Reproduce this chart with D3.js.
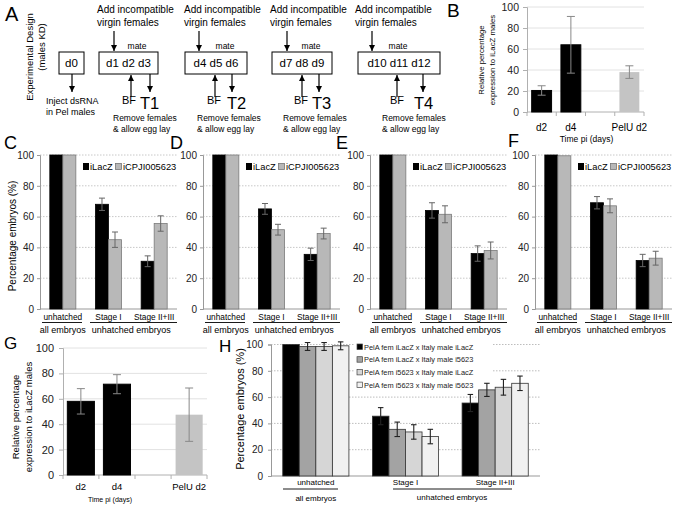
<!DOCTYPE html>
<html><head><meta charset="utf-8">
<script src="https://cdn.jsdelivr.net/npm/d3@7"></script>
<style>body{margin:0;background:#fff} text{font-family:"Liberation Sans",Arial,sans-serif}</style>
</head><body><script>
// ---------- DATA ----------
const dayBoxes = ["d1 d2 d3","d4 d5 d6","d7 d8 d9","d10 d11 d12"];
const timePoints = ["T1","T2","T3","T4"];

const exprCats = ["d2","d4","","PelU d2"];
const bValues = [20.5, 64, null, 38];
const bErr = [4.5, 27, null, 6];
const gValues = [58, 71.5, null, 47.5];
const gErr = [10, 7.5, null, 21];
const yTicks = [0,20,40,60,80,100];

const stages = ["unhatched","Stage I","Stage II+III"];
const stageGroups = ["all embryos","unhatched embryos"];
const seriesCF = ["iLacZ","iCPJI005623"];
const cLacZ = [100, 68, 31],   cLacZErr = [0, 4, 3.5];
const cCPJ  = [100, 45, 55.5], cCPJErr  = [0, 5, 5];
const dLacZ = [100, 65, 35.5], dLacZErr = [0, 3.5, 4];
const dCPJ  = [100, 51.5, 49], dCPJErr  = [0, 3.5, 3.5];
const eLacZ = [100, 64, 36],   eLacZErr = [0, 5, 5];
const eCPJ  = [100, 61.5, 38], eCPJErr  = [0, 5.5, 5.5];
const fLacZ = [100, 69, 31.5], fLacZErr = [0, 4, 4];
const fCPJ  = [99.5, 67, 33],  fCPJErr  = [0, 4.5, 4.5];

const seriesH = ["PelA fem iLacZ x Italy male iLacZ","PelA fem iLacZ x Italy male i5623",
                 "PelA fem i5623 x Italy male iLacZ","PelA fem i5623 x Italy male i5623"];
const h1 = [100, 45.5, 55.5], h1Err = [0, 6.5, 6.5];
const h2 = [98.5, 35.5, 65.5], h2Err = [3, 5.5, 5];
const h3 = [98.5, 33.5, 67.5], h3Err = [3, 5.5, 6];
const h4 = [99, 30, 70.5],    h4Err = [3, 5.5, 5.5];

// ---------- SETUP ----------
const svg = d3.select("body").append("svg").attr("width",681).attr("height",508);
const defs = svg.append("defs");
defs.append("marker").attr("id","ah").attr("viewBox","0 0 10 10").attr("refX",10).attr("refY",5)
  .attr("markerWidth",6).attr("markerHeight",7).attr("markerUnits","userSpaceOnUse").attr("orient","auto")
  .append("path").attr("d","M0,0L10,5L0,10Z").attr("fill","#000");

function txt(g,x,y,s,size,opt={}){
  const t=g.append("text").attr("x",x).attr("y",y).text(s).attr("font-size",size).attr("fill",opt.fill||"#000");
  if(opt.anchor) t.attr("text-anchor",opt.anchor);
  if(opt.rot) t.attr("transform",`rotate(-90,${x},${y})`);
  return t;
}
function arrow(g,x1,y1,x2,y2){
  g.append("line").attr("x1",x1).attr("y1",y1).attr("x2",x2).attr("y2",y2)
   .attr("stroke","#000").attr("stroke-width",1.2).attr("marker-end","url(#ah)");
}
function errBar(g,cx,y1,y2,cap,color,w){
  g.append("line").attr("x1",cx).attr("x2",cx).attr("y1",y1).attr("y2",y2).attr("stroke",color).attr("stroke-width",w||1);
  [y1,y2].forEach(y=>g.append("line").attr("x1",cx-cap/2).attr("x2",cx+cap/2).attr("y1",y).attr("y2",y).attr("stroke",color).attr("stroke-width",w||1));
}

// ---------- PANEL A ----------
const A = svg.append("g");
txt(A,5,21,"A",20);
txt(A,33,57,"Experimental Design",9.5,{anchor:"middle",rot:true});
txt(A,45,47,"(males KD)",9.5,{anchor:"middle",rot:true});
A.append("rect").attr("x",59).attr("y",52).attr("width",25).attr("height",22).attr("fill","none").attr("stroke","#000");
txt(A,71.5,67,"d0",11.5,{anchor:"middle"});
arrow(A,72,74,72,92);
txt(A,46,104,"Inject dsRNA",9);
txt(A,46,115,"in Pel males",9);
const aLay = [
 {x:99,w:59, top:114, mate:137, bf:131, bfT:122, dn:150, T:140, rem:113, add:97},
 {x:185,w:62, top:199, mate:225, bf:215, bfT:207, dn:232, T:227, rem:197, add:184},
 {x:272,w:60, top:287, mate:311, bf:302, bfT:294, dn:319, T:312, rem:283, add:270},
 {x:358,w:82, top:372, mate:398, bf:397, bfT:390, dn:423, T:414, rem:382, add:355}
];
aLay.forEach((L,i)=>{
  txt(A,L.add,13,"Add incompatible",10);
  txt(A,L.add,26,"virgin females",10);
  arrow(A,L.top,31,L.top,51);
  txt(A,L.mate,49,"mate",8.5,{anchor:"middle"});
  A.append("rect").attr("x",L.x).attr("y",52).attr("width",L.w).attr("height",22).attr("fill","none").attr("stroke","#000");
  txt(A,L.x+L.w/2,67,dayBoxes[i],11.5,{anchor:"middle"});
  arrow(A,L.bf,97,L.bf,75);
  arrow(A,L.dn,74,L.dn,92);
  txt(A,L.bfT,104,"BF",11);
  txt(A,L.T,109,timePoints[i],16.5);
  txt(A,L.rem,121,"Remove females",8.5);
  txt(A,L.rem,131.5,"& allow egg lay",8.5);
});

// ---------- expression panels (B, G) ----------
function exprPanel(opt, values, errs){
  const g = svg.append("g");
  const y = d3.scaleLinear().domain([0,100]).range([opt.y0,opt.y1]);
  const x = d3.scaleBand().domain(exprCats).range([opt.x0,opt.x1]).paddingInner(opt.pi).paddingOuter(opt.po);
  yTicks.forEach(t=>{ if(t>0) g.append("line").attr("x1",opt.x0).attr("x2",opt.x1).attr("y1",y(t)).attr("y2",y(t)).attr("stroke","#e2e2e2"); });
  const ya = g.append("g").attr("transform",`translate(${opt.x0},0)`).call(d3.axisLeft(y).tickValues(yTicks).tickSize(4).tickPadding(opt.tp));
  ya.select(".domain").attr("stroke","#b0b0b0");
  ya.selectAll(".tick line").attr("stroke","#b0b0b0");
  ya.selectAll("text").attr("font-size",opt.tf).attr("fill","#222").attr("font-family","Liberation Sans, Arial");
  g.append("line").attr("x1",opt.x0).attr("x2",opt.x1).attr("y1",opt.y0).attr("y2",opt.y0).attr("stroke","#b0b0b0");
  const bounds = exprCats.map(c=>x(c)-x.step()*x.paddingInner()/2).concat([opt.x1]);
  bounds[0]=opt.x0;
  bounds.forEach(b=>g.append("line").attr("x1",b).attr("x2",b).attr("y1",opt.y0).attr("y2",opt.y0+4).attr("stroke","#b0b0b0"));
  exprCats.forEach((c,i)=>{
    if(values[i]==null) return;
    const col = c==="PelU d2" ? "#c4c4c4" : "#000";
    g.append("rect").attr("x",x(c)).attr("width",x.bandwidth()).attr("y",y(values[i])).attr("height",y(0)-y(values[i])).attr("fill",col)
      .attr("stroke", col==="#000"?"#000":"none");
    errBar(g,x(c)+x.bandwidth()/2,y(values[i]+errs[i]),y(values[i]-errs[i]),opt.cap,"#888",1);
    txt(g,x(c)+x.bandwidth()/2,opt.y0+opt.lab,c,opt.lf,{anchor:"middle"});
  });
  txt(g,(opt.x0+opt.x1)/2+opt.tdx,opt.y0+opt.tdy,"Time pi (days)",opt.tpf,{anchor:"middle"});
  txt(g,opt.t1x,opt.tcy,"Relative percentage",opt.ttf,{anchor:"middle",rot:true});
  txt(g,opt.t2x,opt.tcy,"expression to iLacZ males",opt.ttf,{anchor:"middle",rot:true});
  return g;
}
exprPanel({x0:527,x1:644,y0:112,y1:7,pi:0.32,po:0.16,tp:4,tf:10.5,cap:8,lab:19,lf:10,tdx:1,tdy:30,tpf:8.5,
  t1x:484,t2x:495,tcy:60,ttf:7.8}, bValues, bErr);
txt(svg,447,17,"B",19);
exprPanel({x0:63,x1:207,y0:475,y1:348,pi:0.25,po:0.12,tp:5,tf:11,cap:8,lab:15,lf:9.5,tdx:-25,tdy:27,tpf:7,
  t1x:19,t2x:32,tcy:417,ttf:9.5}, gValues, gErr);
txt(svg,4,349,"G",17);

// ---------- embryo panels (C-F) ----------
function embryoPanel(ax, lac, lacE, cpj, cpjE, showTitle){
  const g = svg.append("g");
  const W = 137;
  const y = d3.scaleLinear().domain([0,100]).range([309,155]);
  const x = d3.scaleBand().domain(stages).range([ax,ax+W]).paddingInner(0.43).paddingOuter(0.215);
  const xs = d3.scaleBand().domain(seriesCF).range([0,x.bandwidth()]);
  yTicks.forEach(t=>{ if(t>0) g.append("line").attr("x1",ax).attr("x2",ax+W).attr("y1",y(t)).attr("y2",y(t))
      .attr("stroke","#c8c8c8").attr("stroke-dasharray","1.5,1.5"); });
  const ya = g.append("g").attr("transform",`translate(${ax},0)`).call(d3.axisLeft(y).tickValues(yTicks).tickSize(3).tickPadding(3));
  ya.select(".domain").attr("stroke","#999");
  ya.selectAll(".tick line").attr("stroke","#999");
  ya.selectAll("text").attr("font-size",10).attr("fill","#222").attr("font-family","Liberation Sans, Arial");
  g.append("line").attr("x1",ax).attr("x2",ax+W).attr("y1",309).attr("y2",309).attr("stroke","#999");
  const sets = [[lac,lacE,"#000","#000"],[cpj,cpjE,"#b8b8b8","#7a7a7a"]];
  sets.forEach((s,k)=>{
    stages.forEach((st,i)=>{
      const bx = x(st)+xs(seriesCF[k]);
      g.append("rect").attr("x",bx).attr("width",xs.bandwidth()).attr("y",y(s[0][i])).attr("height",y(0)-y(s[0][i]))
        .attr("fill",s[2]).attr("stroke",s[3]).attr("stroke-width",0.8);
    });
  });
  sets.forEach((s,k)=>{
    stages.forEach((st,i)=>{
      if(!s[1][i]) return;
      const cx = x(st)+xs(seriesCF[k])+xs.bandwidth()/2;
      errBar(g,cx,y(s[0][i]+s[1][i]),y(s[0][i]-s[1][i]),6,"#666",1);
    });
  });
  stages.forEach(st=> txt(g,x(st)+x.bandwidth()/2,319.5,st,8.3,{anchor:"middle"}));
  g.append("line").attr("x1",ax+2).attr("x2",ax+42).attr("y1",322.5).attr("y2",322.5).attr("stroke","#000").attr("stroke-width",0.9);
  g.append("line").attr("x1",ax+50).attr("x2",ax+W).attr("y1",322.5).attr("y2",322.5).attr("stroke","#000").attr("stroke-width",0.9);
  txt(g,x(stages[0])+x.bandwidth()/2,332.5,stageGroups[0],9,{anchor:"middle"});
  txt(g,(x(stages[1])+x(stages[2])+x.bandwidth())/2,332.5,stageGroups[1],9,{anchor:"middle"});
  // legend
  g.append("rect").attr("x",ax+43).attr("y",163).attr("width",6).attr("height",7).attr("fill","#000");
  txt(g,ax+50,170,seriesCF[0],9.3);
  g.append("rect").attr("x",ax+75.5).attr("y",163.5).attr("width",6).attr("height",6).attr("fill","#b8b8b8").attr("stroke","#777").attr("stroke-width",0.8);
  txt(g,ax+83,170,seriesCF[1],9.3);
  if(showTitle) txt(g,16,236,"Percentage embryos (%)",10,{anchor:"middle",rot:true});
  return g;
}
embryoPanel(40, cLacZ, cLacZErr, cCPJ, cCPJErr, true);
embryoPanel(203, dLacZ, dLacZErr, dCPJ, dCPJErr, false);
embryoPanel(370, eLacZ, eLacZErr, eCPJ, eCPJErr, false);
embryoPanel(535, fLacZ, fLacZErr, fCPJ, fCPJErr, false);
txt(svg,4,149,"C",18);
txt(svg,170,149,"D",18);
txt(svg,336,149,"E",18);
txt(svg,508,147,"F",18);

// ---------- PANEL H ----------
(function(){
  const g = svg.append("g");
  const x0=271, x1=540;
  const y = d3.scaleLinear().domain([0,100]).range([476,344.5]);
  const x = d3.scaleBand().domain(stages).range([x0,x1]).paddingInner(0.262).paddingOuter(0.131);
  const xs = d3.scaleBand().domain(seriesH).range([0,x.bandwidth()]);
  const vals = [h1,h2,h3,h4], errs=[h1Err,h2Err,h3Err,h4Err];
  const cols = ["#000","#a3a3a3","#d6d6d6","#f1f1f1"];
  yTicks.forEach(t=>{ if(t>0) g.append("line").attr("x1",x0).attr("x2",x1).attr("y1",y(t)).attr("y2",y(t))
      .attr("stroke","#bdbdbd").attr("stroke-dasharray","1.5,1.5"); });
  const ya = g.append("g").attr("transform",`translate(${x0},0)`).call(d3.axisLeft(y).tickValues(yTicks).tickSize(3).tickPadding(5));
  ya.select(".domain").attr("stroke","#999");
  ya.selectAll(".tick line").attr("stroke","#999");
  ya.selectAll("text").attr("font-size",10).attr("fill","#222").attr("font-family","Liberation Sans, Arial");
  g.append("line").attr("x1",x0).attr("x2",x1).attr("y1",476).attr("y2",476).attr("stroke","#999");
  // legend background + entries
  g.append("rect").attr("x",355).attr("y",340).attr("width",138).attr("height",51).attr("fill","#fff");
  seriesH.forEach((s,k)=>{
    g.append("rect").attr("x",357).attr("y",344+k*12.7).attr("width",5.5).attr("height",5.5).attr("fill",cols[k]).attr("stroke","#444").attr("stroke-width",0.7);
    txt(g,364,349.7+k*12.7,s,7.4,{fill:"#222"});
  });
  seriesH.forEach((s,k)=>{
    stages.forEach((st,i)=>{
      g.append("rect").attr("x",x(st)+xs(s)).attr("width",xs.bandwidth()).attr("y",y(vals[k][i])).attr("height",y(0)-y(vals[k][i]))
        .attr("fill",cols[k]).attr("stroke","#333").attr("stroke-width",0.8);
    });
  });
  seriesH.forEach((s,k)=>{
    stages.forEach((st,i)=>{
      if(!errs[k][i]) return;
      errBar(g,x(st)+xs(s)+xs.bandwidth()/2,y(vals[k][i]+errs[k][i]),y(vals[k][i]-errs[k][i]),5.5,"#222",1.1);
    });
  });
  stages.forEach(st=> txt(g,x(st)+x.bandwidth()/2,485,st,8,{anchor:"middle"}));
  g.append("line").attr("x1",283).attr("x2",338).attr("y1",489).attr("y2",489).attr("stroke","#000").attr("stroke-width",0.9);
  g.append("line").attr("x1",393).attr("x2",512).attr("y1",489).attr("y2",489).attr("stroke","#000").attr("stroke-width",0.9);
  txt(g,x(stages[0])+x.bandwidth()/2,501,stageGroups[0],8,{anchor:"middle"});
  txt(g,452,499.5,stageGroups[1],8,{anchor:"middle"});
  txt(g,244,409,"Percentage embryos (%)",11,{anchor:"middle",rot:true});
  txt(g,219,352,"H",17);
})();
</script></body></html>
